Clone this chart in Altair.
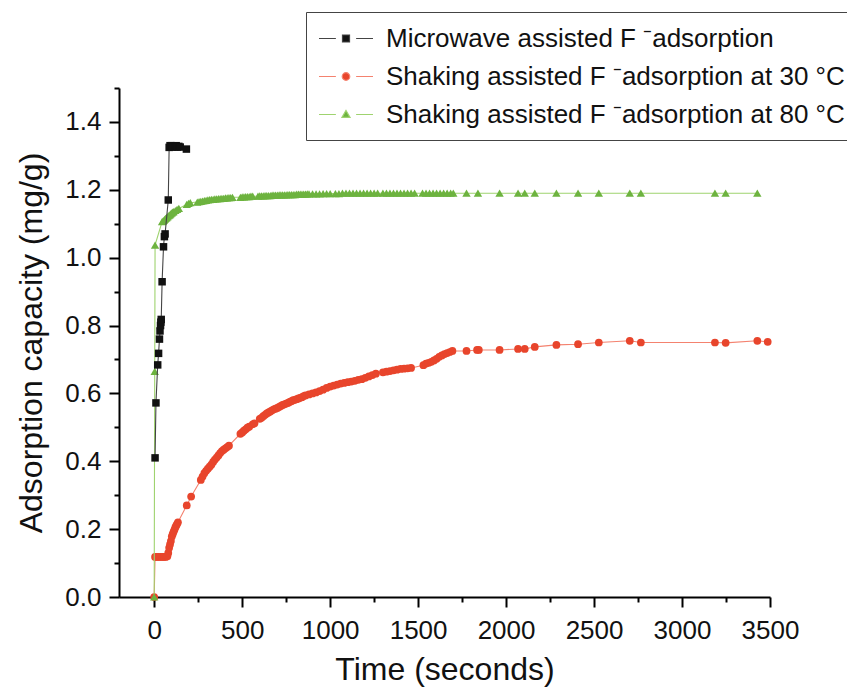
import altair as alt
import pandas as pd

series_names = [
    "Microwave assisted F \u207badsorption",
    "Shaking assisted F \u207badsorption at 30 \u00b0C",
    "Shaking assisted F \u207badsorption at 80 \u00b0C",
]
marker_colors = ["#111111", "#e8452c", "#6db33f"]
line_colors = ["#444444", "#f4826f", "#9fd36f"]

# Microwave assisted
mw_time = [5, 10, 20, 25, 30, 33, 36, 38, 40, 45, 53, 58, 62, 80, 85, 90, 95, 100, 105, 110, 118, 125, 132, 140, 148, 183]
mw_cap = [0.41, 0.572, 0.684, 0.718, 0.76, 0.784, 0.80, 0.81, 0.818, 0.929, 1.032, 1.062, 1.07, 1.17, 1.325, 1.33, 1.327, 1.33, 1.326, 1.329, 1.327, 1.33, 1.326, 1.328, 1.326, 1.32]

# Shaking 30 C
s30_time = [0, 5, 15, 25, 35, 45, 55, 65, 75, 80, 85, 90, 95, 100, 105, 110, 115, 120, 125, 130, 135,
            185, 210, 265, 275, 285, 295, 305, 315, 325, 335, 345, 355, 365, 375, 385, 395, 405, 415, 425,
            490, 500, 510, 520, 530, 540, 560, 570, 600, 610, 620, 630, 640, 650, 660, 670, 680, 690, 700,
            710, 720, 730, 740, 750, 760, 770, 780, 790, 800, 810, 820, 830, 840, 850, 860, 880, 900, 920,
            940, 960, 980, 1000, 1020, 1040, 1060, 1080, 1100, 1120, 1140, 1160, 1180, 1200, 1220, 1240,
            1260, 1300, 1320, 1340, 1360, 1380, 1400, 1420, 1440, 1460, 1530, 1545, 1560, 1575, 1590, 1605,
            1620, 1635, 1650, 1665, 1680, 1695, 1775, 1835, 1845, 1963, 2068, 2106, 2163, 2286, 2409, 2527,
            2703, 2766, 3187, 3248, 3428, 3487]
s30_cap = [0.0, 0.118, 0.118, 0.118, 0.118, 0.118, 0.118, 0.118, 0.12, 0.13, 0.145, 0.155, 0.165, 0.178, 0.185, 0.192, 0.198, 0.205, 0.21, 0.215, 0.22,
           0.27, 0.296, 0.345, 0.355, 0.365, 0.372, 0.378, 0.384, 0.39, 0.398, 0.405, 0.411, 0.417, 0.424, 0.43, 0.434, 0.438, 0.442, 0.446,
           0.481, 0.485, 0.49, 0.494, 0.499, 0.502, 0.509, 0.512, 0.525, 0.528, 0.533, 0.537, 0.541, 0.544, 0.547, 0.55, 0.553, 0.555, 0.557,
           0.56, 0.563, 0.566, 0.568, 0.57, 0.572, 0.575, 0.577, 0.58, 0.581, 0.583, 0.585, 0.587, 0.589, 0.592, 0.594, 0.597, 0.6, 0.603,
           0.607, 0.611, 0.616, 0.62, 0.623, 0.626, 0.629, 0.631, 0.633, 0.635, 0.637, 0.64, 0.642, 0.646, 0.65, 0.654,
           0.658, 0.662, 0.664, 0.666, 0.668, 0.67, 0.672, 0.673, 0.674, 0.675, 0.683, 0.688, 0.69, 0.693, 0.697, 0.702,
           0.708, 0.712, 0.716, 0.719, 0.722, 0.725, 0.725, 0.728, 0.728, 0.728, 0.731, 0.731, 0.737, 0.743, 0.745, 0.75,
           0.755, 0.75, 0.75, 0.749, 0.755, 0.752]

# Shaking 80 C
s80_time = [0, 3, 5, 45, 50, 55, 60, 65, 70, 75, 80, 85, 90, 95, 100, 105, 110, 120, 130, 140,
            185, 195, 205, 245, 255, 265, 275, 285, 295, 305, 315, 325, 335, 345, 355, 365, 375, 385, 395,
            405, 415, 425, 435, 445, 490, 500, 510, 520, 530, 540, 550, 560, 590, 600, 610, 620, 630, 640,
            650, 660, 670, 680, 690, 700, 710, 720, 730, 740, 750, 760, 770, 780, 790, 800, 810, 820, 830,
            840, 850, 860, 870, 880, 900, 920, 940, 960, 980, 1000, 1030, 1050, 1070, 1090, 1110, 1130,
            1150, 1170, 1190, 1210, 1230, 1250, 1270, 1300, 1320, 1340, 1360, 1380, 1400, 1420, 1440, 1460,
            1480, 1525, 1545, 1565, 1585, 1605, 1625, 1645, 1665, 1685, 1700, 1775, 1840, 1963, 2068, 2106,
            2163, 2286, 2409, 2527, 2703, 2766, 3187, 3248, 3428]
s80_cap = [0.0, 0.665, 1.037, 1.106, 1.108, 1.11, 1.113, 1.116, 1.118, 1.12, 1.123, 1.125, 1.127, 1.13, 1.132, 1.134, 1.136, 1.139, 1.142, 1.145,
           1.157, 1.16, 1.162, 1.164, 1.165, 1.166, 1.167, 1.168, 1.169, 1.17, 1.171, 1.172, 1.172, 1.173, 1.173, 1.174, 1.174, 1.175, 1.175,
           1.176, 1.176, 1.177, 1.177, 1.178, 1.178, 1.179, 1.179, 1.18, 1.18, 1.18, 1.181, 1.181, 1.181, 1.182, 1.182, 1.182, 1.183, 1.183,
           1.183, 1.183, 1.184, 1.184, 1.184, 1.184, 1.185, 1.185, 1.185, 1.185, 1.185, 1.186, 1.186, 1.186, 1.186, 1.186, 1.187, 1.187, 1.187,
           1.187, 1.187, 1.187, 1.188, 1.188, 1.188, 1.188, 1.188, 1.189, 1.189, 1.189, 1.189, 1.189, 1.19, 1.19, 1.19, 1.19,
           1.19, 1.19, 1.19, 1.19, 1.19, 1.19, 1.19, 1.19, 1.19, 1.19, 1.19, 1.19, 1.19, 1.19, 1.19, 1.19,
           1.19, 1.19, 1.19, 1.19, 1.19, 1.19, 1.19, 1.19, 1.19, 1.19, 1.19, 1.19, 1.19, 1.19, 1.19, 1.19,
           1.19, 1.19, 1.19, 1.19, 1.19, 1.19, 1.19, 1.19, 1.19]

x_ticks = list(range(0, 3501, 250))
y_ticks = [round(i * 0.1, 1) for i in range(16)]

FONT = "Liberation Sans"

mw_df = pd.DataFrame({"t": mw_time, "q": mw_cap})
s30_df = pd.DataFrame({"t": s30_time, "q": s30_cap})
s80_df = pd.DataFrame({"t": s80_time, "q": s80_cap})

x_enc = alt.X(
    "t:Q",
    scale=alt.Scale(domain=[-200, 3500], nice=False, zero=False),
    axis=alt.Axis(
        values=x_ticks,
        labelExpr="datum.value % 500 == 0 ? format(datum.value, 'd') : ''",
        tickSize={"condition": {"test": "datum.value % 500 == 0", "value": 10}, "value": 5},
        title="Time (seconds)",
        grid=False,
        labelOverlap=False,
        labelFlush=False,
        labelPadding=10,
        titlePadding=11,
    ),
)
y_enc = alt.Y(
    "q:Q",
    scale=alt.Scale(domain=[0, 1.5], nice=False, zero=True),
    axis=alt.Axis(
        values=y_ticks,
        labelExpr="round(datum.value * 10) % 2 == 0 ? format(datum.value, '.1f') : ''",
        tickSize={"condition": {"test": "round(datum.value * 10) % 2 == 0", "value": 10}, "value": 5},
        title="Adsorption capacity (mg/g)",
        grid=False,
        labelOverlap=False,
        labelPadding=8,
        titlePadding=16,
    ),
)


def series_layers(df, line_color, marker_color, shape, size):
    line = alt.Chart(df).mark_line(color=line_color, strokeWidth=1.1).encode(x=x_enc, y=y_enc)
    pts = alt.Chart(df).mark_point(
        filled=True, shape=shape, size=size, color=marker_color, opacity=1
    ).encode(x=x_enc, y=y_enc)
    return [line, pts]


legend_paths = [
    "M-1,0H0.25M1.75,0H3M0.74,-0.26H1.26V0.26H0.74Z",
    "M-1,0H0.25M1.75,0H3M0.72,0A0.28,0.28 0 1,0 1.28,0A0.28,0.28 0 1,0 0.72,0Z",
    "M-1,0H0.25M1.75,0H3M1,-0.3L1.3,0.22H0.7Z",
]
legend_df = pd.DataFrame({"series": series_names})
leg = alt.Legend(title=None)
legend_layer = alt.Chart(legend_df).mark_point(opacity=0, filled=True).encode(
    fill=alt.Fill("series:N", scale=alt.Scale(domain=series_names, range=marker_colors), legend=leg),
    stroke=alt.Stroke("series:N", scale=alt.Scale(domain=series_names, range=line_colors), legend=leg),
    shape=alt.Shape("series:N", scale=alt.Scale(domain=series_names, range=legend_paths), legend=leg),
)

layers = (
    series_layers(s30_df, line_colors[1], marker_colors[1], "circle", 60)
    + series_layers(s80_df, line_colors[2], marker_colors[2], "triangle-up", 70)
    + series_layers(mw_df, line_colors[0], marker_colors[0], "square", 56)
    + [legend_layer]
)

chart = (
    alt.layer(*layers)
    .properties(
        width=651,
        height=509,
        autosize=alt.AutoSizeParams(type="none"),
        padding={"left": 111, "top": 80, "right": 77, "bottom": 93},
        background="white",
    )
    .configure_view(stroke=None)
    .configure_axis(
        domainColor="black",
        domainWidth=2,
        tickColor="black",
        tickWidth=2,
        labelFont=FONT,
        titleFont=FONT,
        labelFontSize=26,
        titleFontSize=32,
        titleFontWeight="normal",
        labelColor="#111111",
        titleColor="#111111",
    )
    .configure_legend(
        orient="none",
        legendX=187,
        legendY=-76,
        strokeColor="#444444",
        fillColor="white",
        padding=12,
        symbolSize=729,
        symbolStrokeWidth=1.2,
        symbolOpacity=1,
        labelFont=FONT,
        labelFontSize=26,
        labelColor="#111111",
        labelOffset=39,
        labelLimit=700,
        rowPadding=10,
    )
)

chart.save("out.html", embed_options={"renderer": "svg", "actions": False})
